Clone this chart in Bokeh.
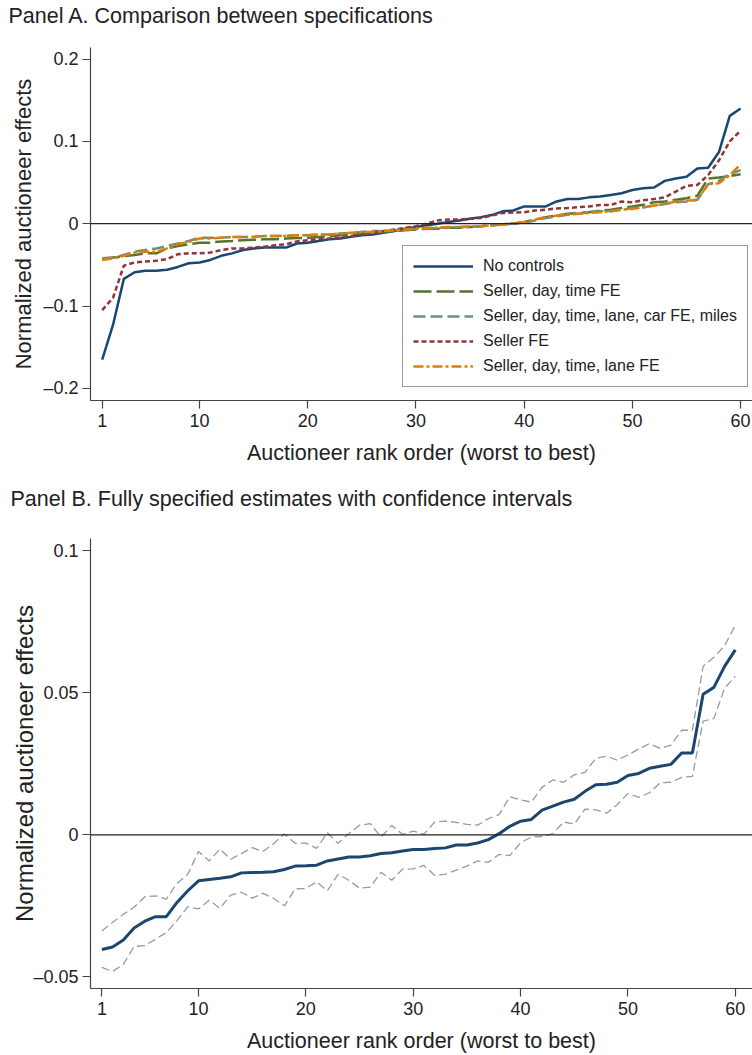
from bokeh.plotting import figure
from bokeh.models import Span, Legend, LegendItem, FixedTicker, Range1d, Title
from bokeh.layouts import column
from bokeh.embed import file_html
from bokeh.resources import INLINE

rank = list(range(1, 61))

no_controls = [-0.165, -0.123, -0.067, -0.059, -0.057, -0.057, -0.056, -0.0525, -0.048, -0.047,
               -0.044, -0.039, -0.036, -0.032, -0.030, -0.029, -0.029, -0.029, -0.024, -0.023,
               -0.021, -0.019, -0.018, -0.016, -0.014, -0.013, -0.011, -0.009, -0.006, -0.004,
               -0.002, 0.000, 0.002, 0.004, 0.006, 0.008, 0.0105, 0.015, 0.016, 0.021,
               0.021, 0.021, 0.027, 0.030, 0.030, 0.032, 0.033, 0.035, 0.037, 0.041,
               0.043, 0.044, 0.052, 0.055, 0.057, 0.067, 0.068, 0.087, 0.131, 0.140]
seller_day_time = [-0.043, -0.041, -0.0395, -0.038, -0.036, -0.036, -0.030, -0.027, -0.025, -0.023,
                   -0.023, -0.0215, -0.021, -0.020, -0.0195, -0.019, -0.019, -0.018, -0.0175, -0.017,
                   -0.016, -0.015, -0.014, -0.013, -0.012, -0.011, -0.010, -0.009, -0.008, -0.007,
                   -0.006, -0.006, -0.005, -0.005, -0.004, -0.003, -0.002, -0.001, 0.000, 0.002,
                   0.005, 0.008, 0.010, 0.012, 0.013, 0.014, 0.016, 0.017, 0.019, 0.021,
                   0.023, 0.026, 0.027, 0.029, 0.031, 0.034, 0.055, 0.056, 0.058, 0.060]
seller_full = [-0.042, -0.041, -0.038, -0.034, -0.032, -0.030, -0.027, -0.024, -0.021, -0.017,
               -0.017, -0.017, -0.016, -0.016, -0.016, -0.015, -0.015, -0.0145, -0.014, -0.014,
               -0.013, -0.013, -0.012, -0.011, -0.010, -0.009, -0.009, -0.008, -0.007, -0.006,
               -0.006, -0.005, -0.005, -0.004, -0.004, -0.003, -0.002, -0.001, 0.000, 0.001,
               0.004, 0.007, 0.009, 0.011, 0.012, 0.014, 0.015, 0.015, 0.017, 0.019,
               0.020, 0.022, 0.024, 0.026, 0.027, 0.029, 0.048, 0.052, 0.060, 0.065]
seller_fe = [-0.105, -0.090, -0.051, -0.047, -0.046, -0.045, -0.043, -0.037, -0.036, -0.036,
             -0.035, -0.032, -0.030, -0.030, -0.029, -0.028, -0.026, -0.025, -0.0215, -0.020,
             -0.019, -0.018, -0.017, -0.015, -0.013, -0.011, -0.009, -0.007, -0.005, -0.003,
             0.000, 0.004, 0.005, 0.005, 0.006, 0.007, 0.010, 0.013, 0.0135, 0.014,
             0.016, 0.017, 0.0186, 0.019, 0.020, 0.021, 0.0227, 0.0227, 0.027, 0.026,
             0.0285, 0.030, 0.032, 0.039, 0.046, 0.047, 0.059, 0.077, 0.100, 0.113]
seller_lane = [-0.044, -0.042, -0.039, -0.035, -0.034, -0.034, -0.030, -0.025, -0.022, -0.018,
               -0.018, -0.017, -0.016, -0.016, -0.016, -0.015, -0.015, -0.015, -0.014, -0.014,
               -0.013, -0.013, -0.012, -0.011, -0.010, -0.010, -0.009, -0.008, -0.007, -0.006,
               -0.005, -0.005, -0.004, -0.004, -0.003, -0.003, -0.002, -0.001, 0.001, 0.002,
               0.005, 0.008, 0.010, 0.011, 0.012, 0.013, 0.014, 0.015, 0.017, 0.018,
               0.020, 0.022, 0.024, 0.027, 0.028, 0.029, 0.048, 0.049, 0.059, 0.072]

b_est = [-0.0404, -0.0395, -0.0370, -0.0328, -0.0304, -0.0288, -0.0288, -0.0238, -0.0197, -0.0162,
         -0.0157, -0.0153, -0.0148, -0.0134, -0.0133, -0.0132, -0.0130, -0.0122, -0.0110, -0.0109,
         -0.0107, -0.0092, -0.0085, -0.0078, -0.0078, -0.0074, -0.0066, -0.0063, -0.0057, -0.0052,
         -0.0052, -0.0048, -0.0046, -0.0036, -0.0036, -0.0029, -0.0017, 0.0004, 0.0030, 0.0048,
         0.0054, 0.0087, 0.0101, 0.0115, 0.0125, 0.0153, 0.0176, 0.0178, 0.0185, 0.0209,
         0.0216, 0.0234, 0.0241, 0.0248, 0.0288, 0.0288, 0.0495, 0.0519, 0.0593, 0.0651]
b_upper = [-0.0339, -0.0308, -0.0280, -0.0255, -0.0218, -0.0215, -0.0226, -0.0171, -0.0139, -0.0059,
           -0.0092, -0.0050, -0.0086, -0.0066, -0.0045, -0.0059, -0.0031, 0.0003, -0.0030, -0.0029,
           -0.0048, 0.0007, -0.0030, 0.0004, 0.0034, 0.0039, -0.0008, 0.0033, 0.0002, 0.0013,
           0.0002, 0.0045, 0.0048, 0.0044, 0.0037, 0.0034, 0.0057, 0.0071, 0.0134, 0.0123,
           0.0115, 0.0167, 0.0193, 0.0185, 0.0211, 0.0220, 0.0269, 0.0277, 0.0263, 0.0281,
           0.0302, 0.0321, 0.0304, 0.0316, 0.0368, 0.0368, 0.0593, 0.0625, 0.0665, 0.0738]
b_lower = [-0.0467, -0.0481, -0.0456, -0.0393, -0.0390, -0.0367, -0.0344, -0.0302, -0.0253, -0.0261,
           -0.0230, -0.0259, -0.0212, -0.0202, -0.0223, -0.0206, -0.0224, -0.0250, -0.0190, -0.0189,
           -0.0166, -0.0197, -0.0139, -0.0160, -0.0188, -0.0184, -0.0132, -0.0160, -0.0121, -0.0120,
           -0.0108, -0.0143, -0.0139, -0.0124, -0.0110, -0.0092, -0.0097, -0.0069, -0.0073, -0.0028,
           -0.0008, -0.0006, 0.0004, 0.0045, 0.0038, 0.0090, 0.0088, 0.0076, 0.0106, 0.0146,
           0.0132, 0.0148, 0.0183, 0.0185, 0.0202, 0.0206, 0.0400, 0.0409, 0.0516, 0.0558]

x_ticks = [1, 10, 20, 30, 40, 50, 60]
a_yticks = [-0.2, -0.1, 0, 0.1, 0.2]
a_ylabels = {-0.2: "\u20130.2", -0.1: "\u20130.1", 0: "0", 0.1: "0.1", 0.2: "0.2"}
b_yticks = [-0.05, 0, 0.05, 0.1]
b_ylabels = {-0.05: "\u20130.05", 0: "0", 0.05: "0.05", 0.1: "0.1"}
title_a = "Panel A. Comparison between specifications"
title_b = "Panel B. Fully specified estimates with confidence intervals"

FONT = "Liberation Sans"
TXT = "#222222"
AX = "#444444"


def title_strip(text, h, offset, standoff):
    # a thin figure whose only content is a Title in its top border
    t = figure(width=752, height=h, output_backend="svg", toolbar_location=None,
               x_range=Range1d(0, 1), y_range=Range1d(0, 1),
               x_axis_location=None, y_axis_location=None,
               min_border_left=90, min_border_right=0, min_border_top=0, min_border_bottom=0)
    t.xgrid.grid_line_color = None
    t.ygrid.grid_line_color = None
    t.outline_line_color = None
    t.add_layout(Title(text=text, align="left", vertical_align="top",
                       text_font=FONT, text_font_size="21.5px", text_font_style="normal",
                       text_color=TXT, offset=offset, standoff=standoff), "above")
    return t


def style(p, yticks, ylabels, ylabel_size, ylabel_standoff):
    p.xaxis.ticker = FixedTicker(ticks=x_ticks)
    p.yaxis.ticker = FixedTicker(ticks=yticks)
    p.yaxis.major_label_overrides = ylabels
    for ax in (p.xaxis[0], p.yaxis[0]):
        ax.axis_line_color = AX
        ax.axis_line_width = 1.2
        ax.major_tick_line_color = AX
        ax.major_tick_line_width = 1.2
        ax.major_tick_in = 0
        ax.major_tick_out = 8
        ax.minor_tick_line_color = None
        ax.major_label_text_font = FONT
        ax.major_label_text_color = TXT
        ax.major_label_text_font_size = "18px"
        ax.axis_label_text_font = FONT
        ax.axis_label_text_color = TXT
        ax.axis_label_text_font_style = "normal"
    p.yaxis.major_label_orientation = "horizontal"
    p.yaxis.major_label_standoff = 4
    p.xaxis.major_label_standoff = 5
    p.xaxis.axis_label = "Auctioneer rank order (worst to best)"
    p.xaxis.axis_label_text_font_size = "21.5px"
    p.xaxis.axis_label_standoff = 11
    p.yaxis.axis_label = "Normalized auctioneer effects"
    p.yaxis.axis_label_text_font_size = ylabel_size
    p.yaxis.axis_label_standoff = ylabel_standoff
    p.xgrid.grid_line_color = None
    p.ygrid.grid_line_color = None
    p.outline_line_color = None
    p.background_fill_color = "white"
    p.border_fill_color = "white"
    p.add_layout(Span(location=0, dimension="width", line_color="#222222", line_width=1.3))


# ---------- Panel A ----------
ta = title_strip(title_a, 40, -82, 6)
pa = figure(width=752, height=441, output_backend="svg", toolbar_location=None,
            x_range=Range1d(-0.08, 61.1), y_range=Range1d(-0.2147, 0.214),
            min_border_left=90, min_border_right=0, min_border_top=7, min_border_bottom=81)
style(pa, a_yticks, a_ylabels, "22px", 4)

r1 = pa.line(rank, no_controls, line_color="#1a476f", line_width=2.5)
r2 = pa.line(rank, seller_day_time, line_color="#55752f", line_width=2.5, line_dash="18 5")
r3 = pa.line(rank, seller_full, line_color="#6e8e84", line_width=2.5, line_dash="12 5")
r4 = pa.line(rank, seller_fe, line_color="#90353b", line_width=2.5, line_dash="5 3")
r5 = pa.line(rank, seller_lane, line_color="#e37e00", line_width=2.5, line_dash="10 3 3 3")

legend = Legend(items=[
    LegendItem(label="No controls", renderers=[r1]),
    LegendItem(label="Seller, day, time FE", renderers=[r2]),
    LegendItem(label="Seller, day, time, lane, car FE, miles", renderers=[r3]),
    LegendItem(label="Seller FE", renderers=[r4]),
    LegendItem(label="Seller, day, time, lane FE", renderers=[r5]),
], location=(312, 13))
legend.label_text_font = FONT
legend.label_text_font_size = "16px"
legend.label_text_color = TXT
legend.glyph_width = 60
legend.glyph_height = 20
legend.label_height = 20
legend.spacing = 5
legend.padding = 10
legend.margin = 0
legend.label_standoff = 10
legend.border_line_color = "#333333"
legend.border_line_width = 1.2
legend.background_fill_color = "white"
legend.background_fill_alpha = 1.0
pa.add_layout(legend, "center")

# ---------- Panel B ----------
tb = title_strip(title_b, 44, -80, 10)
pb = figure(width=752, height=530, output_backend="svg", toolbar_location=None,
            x_range=Range1d(-0.06, 61.6), y_range=Range1d(-0.0541, 0.1043),
            min_border_left=90, min_border_right=0, min_border_top=13, min_border_bottom=62)
style(pb, b_yticks, b_ylabels, "24px", -8)

pb.line(rank, b_upper, line_color="#9a9a9a", line_width=1.3, line_dash="8 4")
pb.line(rank, b_lower, line_color="#9a9a9a", line_width=1.3, line_dash="8 4")
pb.line(rank, b_est, line_color="#1a476f", line_width=3)

layout = column(ta, pa, tb, pb, spacing=0)
open("out.html", "w").write(file_html(layout, INLINE))
